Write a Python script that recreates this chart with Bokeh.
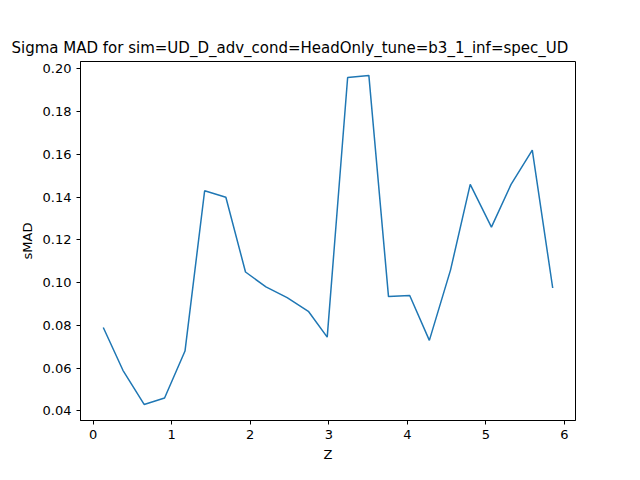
from bokeh.plotting import figure
from bokeh.models import Range1d, FixedTicker, CustomJSTickFormatter
from bokeh.embed import file_html
from bokeh.resources import INLINE

z = [0.13, 0.38, 0.65, 0.91, 1.17, 1.42, 1.69, 1.94, 2.20, 2.47, 2.74, 2.98,
     3.24, 3.51, 3.76, 4.03, 4.28, 4.55, 4.80, 5.07, 5.32, 5.59, 5.85]
smad = [0.079, 0.059, 0.043, 0.046, 0.068, 0.143, 0.140, 0.105, 0.098, 0.093,
        0.0866, 0.0745, 0.196, 0.197, 0.0935, 0.094, 0.073, 0.106, 0.146,
        0.126, 0.146, 0.162, 0.0975]

p = figure(width=624, height=464, output_backend="svg", toolbar_location=None,
           x_range=Range1d(-0.16, 6.14), y_range=Range1d(0.0355, 0.2035),
           title="Sigma MAD for sim=UD_D_adv_cond=HeadOnly_tune=b3_1_inf=spec_UD",
           x_axis_label="Z", y_axis_label="sMAD",
           min_border_left=80, min_border_right=49, min_border_top=61, min_border_bottom=36)
p.line(z, smad, line_color="#1f77b4", line_width=1.5)

p.title.text_font = "DejaVu Sans"
p.title.text_font_size = "15px"
p.title.text_font_style = "normal"
p.title.text_color = "black"
p.title.offset = -69
for ax in (p.xaxis, p.yaxis):
    ax.major_label_text_font = "DejaVu Sans"
    ax.major_label_text_font_size = "13px"
    ax.major_label_text_color = "black"
    ax.axis_label_text_font = "DejaVu Sans"
    ax.axis_label_text_font_size = "13px"
    ax.axis_label_text_font_style = "normal"
    ax.axis_label_text_color = "black"
    ax.minor_tick_line_color = None
    ax.major_tick_out = 4
    ax.major_tick_in = 0
    ax.axis_line_color = "black"
p.xgrid.visible = False
p.ygrid.visible = False
p.outline_line_color = "black"
p.xaxis.ticker = FixedTicker(ticks=[0, 1, 2, 3, 4, 5, 6])
p.yaxis.ticker = FixedTicker(ticks=[0.04, 0.06, 0.08, 0.10, 0.12, 0.14, 0.16, 0.18, 0.20])
p.yaxis.formatter = CustomJSTickFormatter(code="return tick.toFixed(2)")

open("out.html", "w").write(file_html(p, INLINE))
